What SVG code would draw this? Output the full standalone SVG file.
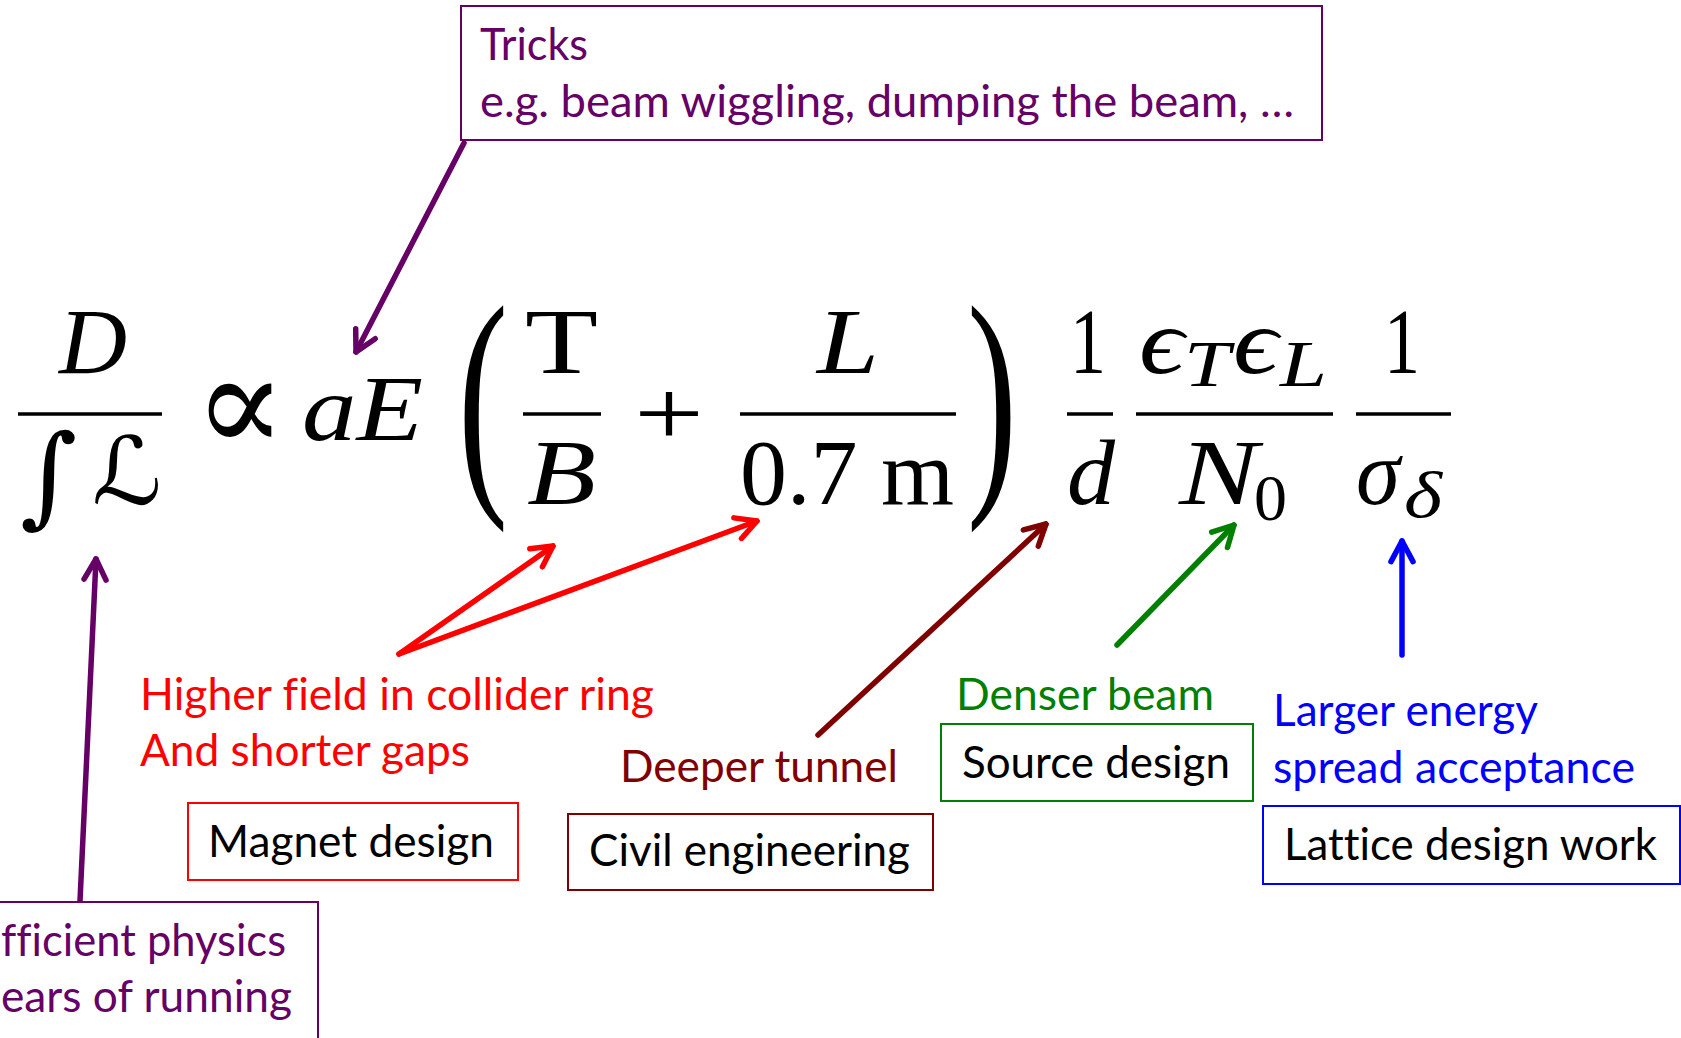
<svg xmlns="http://www.w3.org/2000/svg" width="1681" height="1038" viewBox="0 0 1681 1038">
<style>
.lbl{font-family:Lato,"Open Sans","Liberation Sans",sans-serif;font-size:45px;font-variant-ligatures:none}
.m{font-family:"Liberation Serif","DejaVu Serif",serif;font-size:94px;fill:#000}
.mi{font-style:italic}
.bar{stroke:#000;stroke-width:3.5}
.box{fill:#fff;stroke-width:2}
.ar{fill:none;stroke-width:5.5;stroke-linecap:round}
.hd{fill:none;stroke-width:2;stroke-linecap:round;stroke-linejoin:round}
</style>
<defs>
<marker id="hp" viewBox="0 0 10 10" refX="9" refY="5" markerWidth="5" markerHeight="5" orient="auto" markerUnits="strokeWidth"><path class="hd" d="M1.5,1 L9,5 L1.5,9" stroke="#660066"/></marker>
<marker id="hr" viewBox="0 0 10 10" refX="9" refY="5" markerWidth="5" markerHeight="5" orient="auto" markerUnits="strokeWidth"><path class="hd" d="M1.5,1 L9,5 L1.5,9" stroke="#ff0000"/></marker>
<marker id="hd" viewBox="0 0 10 10" refX="9" refY="5" markerWidth="5" markerHeight="5" orient="auto" markerUnits="strokeWidth"><path class="hd" d="M1.5,1 L9,5 L1.5,9" stroke="#800000"/></marker>
<marker id="hg" viewBox="0 0 10 10" refX="9" refY="5" markerWidth="5" markerHeight="5" orient="auto" markerUnits="strokeWidth"><path class="hd" d="M1.5,1 L9,5 L1.5,9" stroke="#008000"/></marker>
<marker id="hb" viewBox="0 0 10 10" refX="9" refY="5" markerWidth="5" markerHeight="5" orient="auto" markerUnits="strokeWidth"><path class="hd" d="M1.5,1 L9,5 L1.5,9" stroke="#0000ff"/></marker>
</defs>
<rect width="1681" height="1038" fill="#fff"/>

<g id="equation">
<text class="m mi" x="59" y="373" textLength="68" lengthAdjust="spacingAndGlyphs">D</text>
<line class="bar" x1="18" y1="414" x2="162" y2="414"/>
<text x="20" y="513" style="font-family:'DejaVu Serif',serif;font-size:110px">∫</text>
<text x="92" y="504" style="font-family:'DejaVu Serif','DejaVu Sans',serif;font-size:94px;font-style:italic" textLength="70" lengthAdjust="spacingAndGlyphs">ℒ</text>
<text x="194" y="452" style="font-family:'DejaVu Serif',serif;font-size:140px" textLength="92" lengthAdjust="spacingAndGlyphs">∝</text>
<text class="m mi" x="302" y="440" textLength="121" lengthAdjust="spacingAndGlyphs">aE</text>
<text class="m" transform="translate(458,479) scale(1,1.25)" style="font-size:200px" textLength="50" lengthAdjust="spacingAndGlyphs">(</text>
<text class="m" x="525" y="373" textLength="73" lengthAdjust="spacingAndGlyphs">T</text>
<line class="bar" x1="523" y1="414" x2="601" y2="414"/>
<text class="m mi" x="527" y="504" textLength="69" lengthAdjust="spacingAndGlyphs">B</text>
<text class="m" x="634" y="445" textLength="70" lengthAdjust="spacingAndGlyphs">+</text>
<text class="m mi" x="817" y="373" textLength="62" lengthAdjust="spacingAndGlyphs">L</text>
<line class="bar" x1="740" y1="414" x2="956" y2="414"/>
<text class="m" x="740" y="504" textLength="214" lengthAdjust="spacingAndGlyphs">0.7 m</text>
<text class="m" transform="translate(967,479) scale(1,1.25)" style="font-size:200px" textLength="50" lengthAdjust="spacingAndGlyphs">)</text>
<text class="m" x="1070" y="373" textLength="36" lengthAdjust="spacingAndGlyphs">1</text>
<line class="bar" x1="1067" y1="414" x2="1113" y2="414"/>
<text class="m mi" x="1067" y="504" textLength="48" lengthAdjust="spacingAndGlyphs">d</text>
<text class="m mi" x="1139" y="373" textLength="45" lengthAdjust="spacingAndGlyphs">ϵ</text>
<text class="m mi" x="1184" y="386" style="font-size:66px" textLength="46" lengthAdjust="spacingAndGlyphs">T</text>
<text class="m mi" x="1233" y="373" textLength="45" lengthAdjust="spacingAndGlyphs">ϵ</text>
<text class="m mi" x="1280" y="386" style="font-size:66px" textLength="47" lengthAdjust="spacingAndGlyphs">L</text>
<line class="bar" x1="1136" y1="414" x2="1333" y2="414"/>
<text class="m mi" x="1179" y="504" textLength="79" lengthAdjust="spacingAndGlyphs">N</text>
<text class="m" x="1254" y="520" style="font-size:66px" textLength="33" lengthAdjust="spacingAndGlyphs">0</text>
<text class="m" x="1384" y="373" textLength="36" lengthAdjust="spacingAndGlyphs">1</text>
<line class="bar" x1="1356" y1="414" x2="1451" y2="414"/>
<text class="m mi" x="1356" y="504" textLength="44" lengthAdjust="spacingAndGlyphs">σ</text>
<text class="m mi" x="1404" y="517" style="font-size:66px" textLength="38" lengthAdjust="spacingAndGlyphs">δ</text>
</g>

<g id="connectors">
<line class="ar" x1="464" y1="143" x2="356" y2="352" stroke="#660066" marker-end="url(#hp)"/>
<line class="ar" x1="80" y1="901" x2="96" y2="559" stroke="#660066" marker-end="url(#hp)"/>
<line class="ar" x1="399" y1="654" x2="553" y2="546" stroke="#ff0000" marker-end="url(#hr)"/>
<line class="ar" x1="399" y1="654" x2="757" y2="521" stroke="#ff0000" marker-end="url(#hr)"/>
<line class="ar" x1="818" y1="735" x2="1046" y2="524" stroke="#800000" marker-end="url(#hd)"/>
<line class="ar" x1="1117" y1="645" x2="1234" y2="525" stroke="#008000" marker-end="url(#hg)"/>
<line class="ar" x1="1402" y1="655" x2="1402" y2="541" stroke="#0000ff" marker-end="url(#hb)"/>
</g>

<g id="tricks">
<rect class="box" x="461" y="6" width="861" height="134" stroke="#660066"/>
<text class="lbl" x="480" y="60" fill="#660066" textLength="108" lengthAdjust="spacingAndGlyphs">Tricks</text>
<text class="lbl" x="480" y="117" fill="#660066" textLength="814" lengthAdjust="spacingAndGlyphs">e.g. beam wiggling, dumping the beam, …</text>
</g>

<g id="physics">
<rect class="box" x="-4" y="902" width="322" height="140" stroke="#660066"/>
<text class="lbl" x="1" y="956" fill="#660066" textLength="285" lengthAdjust="spacingAndGlyphs">fficient physics</text>
<text class="lbl" x="1" y="1012" fill="#660066" textLength="291" lengthAdjust="spacingAndGlyphs">ears of running</text>
</g>

<g id="higher-field">
<text class="lbl" x="140" y="710" fill="#ff0000" textLength="514" lengthAdjust="spacingAndGlyphs">Higher field in collider ring</text>
<text class="lbl" x="140" y="766" fill="#ff0000" textLength="330" lengthAdjust="spacingAndGlyphs">And shorter gaps</text>
</g>

<g id="magnet">
<rect class="box" x="188" y="803" width="330" height="77" stroke="#ff0000"/>
<text class="lbl" x="208" y="857" fill="#000" textLength="286" lengthAdjust="spacingAndGlyphs">Magnet design</text>
</g>

<g id="deeper">
<text class="lbl" x="620" y="782" fill="#800000" textLength="278" lengthAdjust="spacingAndGlyphs">Deeper tunnel</text>
</g>

<g id="civil">
<rect class="box" x="568" y="814" width="365" height="76" stroke="#800000"/>
<text class="lbl" x="589" y="866" fill="#000" textLength="321" lengthAdjust="spacingAndGlyphs">Civil engineering</text>
</g>

<g id="denser">
<text class="lbl" x="956" y="710" fill="#008000" textLength="258" lengthAdjust="spacingAndGlyphs">Denser beam</text>
</g>

<g id="source">
<rect class="box" x="941" y="724" width="312" height="77" stroke="#008000"/>
<text class="lbl" x="962" y="778" fill="#000" textLength="268" lengthAdjust="spacingAndGlyphs">Source design</text>
</g>

<g id="energy">
<text class="lbl" x="1273" y="726" fill="#0000ff" textLength="265" lengthAdjust="spacingAndGlyphs">Larger energy</text>
<text class="lbl" x="1273" y="783" fill="#0000ff" textLength="362" lengthAdjust="spacingAndGlyphs">spread acceptance</text>
</g>

<g id="lattice">
<rect class="box" x="1263" y="806" width="417" height="78" stroke="#0000ff"/>
<text class="lbl" x="1284" y="860" fill="#000" textLength="373" lengthAdjust="spacingAndGlyphs">Lattice design work</text>
</g>
</svg>
